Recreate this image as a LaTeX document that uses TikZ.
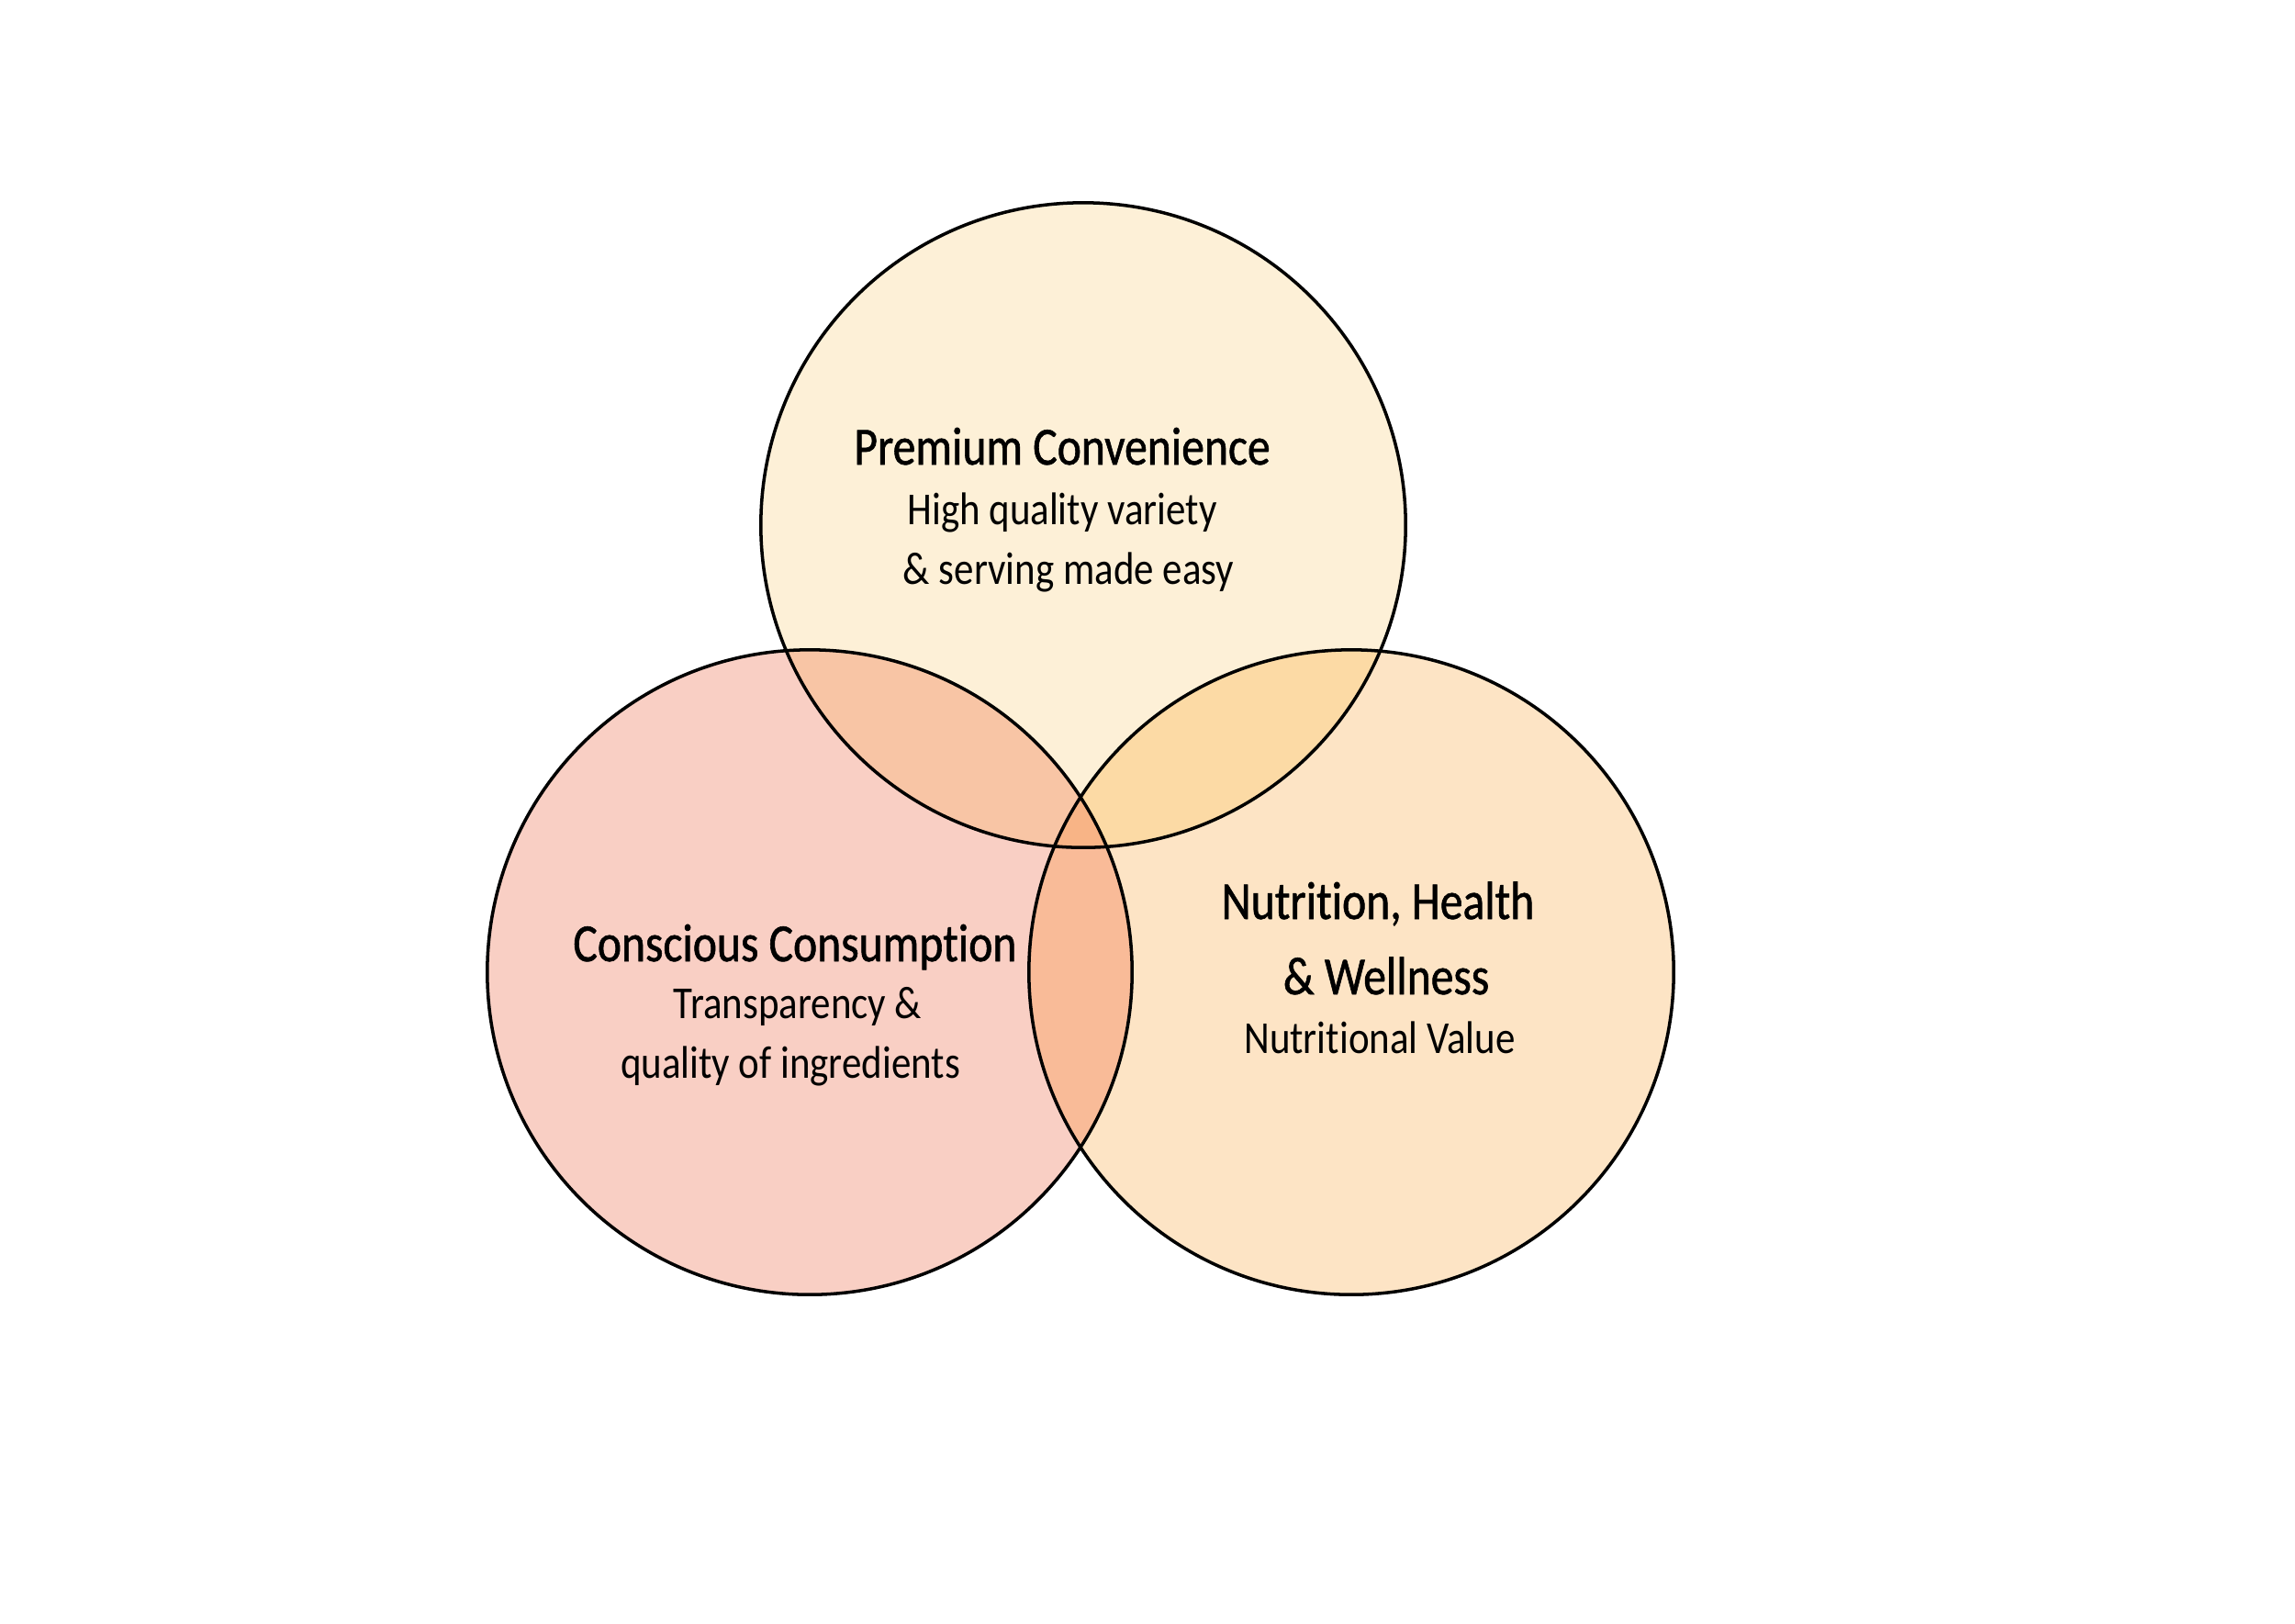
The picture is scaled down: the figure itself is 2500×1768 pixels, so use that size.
\documentclass[tikz,border=0pt]{standalone}
\usepackage{fontspec}
\setmainfont{Carlito}[FakeStretch=0.86, Ligatures=NoCommon]
\newfontfamily\ttlfont{Carlito}[FakeStretch=0.85, FakeBold=1, Ligatures=NoCommon]
\definecolor{cTop}{HTML}{FDF0D7}
\definecolor{cLeft}{HTML}{F9CFC4}
\definecolor{cRight}{HTML}{FDE4C5}
\definecolor{cTL}{HTML}{F8C5A5}
\definecolor{cTR}{HTML}{FCDAA5}
\definecolor{cLR}{HTML}{F9BB98}
\definecolor{cAll}{HTML}{F8B486}
\tikzset{
  ring/.style={draw=black, line width=1pt},
  ttl/.style={anchor=base, inner sep=0pt, font=\ttlfont\fontsize{16.6}{19}\selectfont},
  sub/.style={anchor=base, inner sep=0pt, font=\fontsize{14.2}{16}\selectfont},
}
\newcommand{\topC}{(1180,572) circle [radius=3.51cm]}
\newcommand{\leftC}{(882,1059) circle [radius=3.51cm]}
\newcommand{\rightC}{(1472,1059) circle [radius=3.51cm]}
\begin{document}
\begin{tikzpicture}[x=0.01cm, y=-0.01cm]
\useasboundingbox (0,0) rectangle (2500,1768);
\fill[white] (0,0) rectangle (2500,1768);
% base fills
\fill[cTop] \topC;
\fill[cLeft] \leftC;
\fill[cRight] \rightC;
% pairwise overlaps
\begin{scope}
  \clip \topC;
  \fill[cTL] \leftC;
  \fill[cTR] \rightC;
\end{scope}
\begin{scope}
  \clip \leftC;
  \fill[cLR] \rightC;
\end{scope}
\begin{scope}
  \clip \topC;
  \clip \leftC;
  \fill[cAll] \rightC;
\end{scope}
% outlines
\draw[ring] \topC;
\draw[ring] \leftC;
\draw[ring] \rightC;
% labels
\node[ttl] (t1) at (1157,506) {Premium Convenience};
\node[sub] (t2) at (1157,571) {High quality variety};
\node[sub] (t3) at (1164,636) {\& serving made easy};
\node[ttl] (l1) at (866,1047) {Conscious Consumption};
\node[sub] (l2) at (869,1109) {Transparency \&};
\node[sub] (l3) at (861,1174) {quality of ingredients};
\node[ttl] (r1) at (1501,1001) {Nutrition, Health};
\node[ttl] (r2) at (1510,1083) {\& Wellness};
\node[sub] (r3) at (1503,1147) {Nutritional Value};
\end{tikzpicture}
\end{document}
